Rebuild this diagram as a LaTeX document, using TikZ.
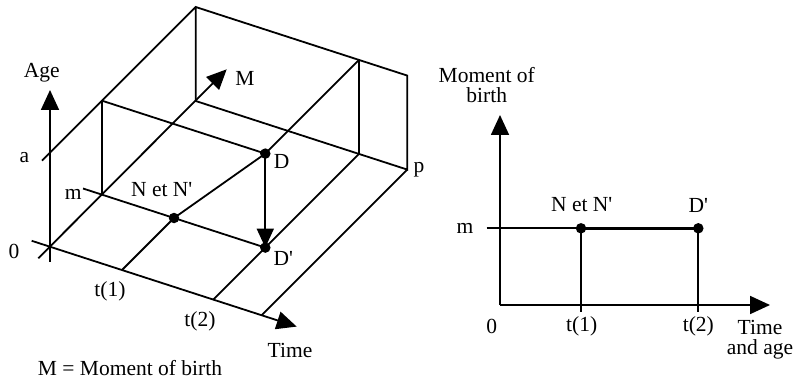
\documentclass[tikz,border=0pt]{standalone}
\usepackage{fontspec}
\newfontfamily\lab{Liberation Serif}
\usetikzlibrary{arrows.meta}
\tikzset{
  ln/.style={line width=1.8pt},
  axis/.style={line width=1.8pt,-{Triangle[length=20pt,width=18pt]}},
  dot/.style={circle,fill=black,inner sep=0pt,minimum size=10.5pt},
  lbl/.style={font=\lab\fontsize{21.5}{23}\selectfont,inner sep=0pt,align=center}
}
\begin{document}
\begin{tikzpicture}[x=1pt,y=-1pt]
\useasboundingbox (0,0) rectangle (799,379);
% ---------- left 3D diagram ----------
\coordinate (O) at (50,246.7);
\coordinate (Ms) at (38.3,258.3);
\coordinate (Me) at (226.7,69.3);
\coordinate (Ts) at (31.7,240.8);
\coordinate (Te) at (296.7,326.6);
\coordinate (As) at (50,261.7);
\coordinate (Ae) at (50,90);
\coordinate (aL) at (42,160.7);
\coordinate (TB) at (195.7,7);
\coordinate (BB) at (195.7,101);
\coordinate (mTop) at (102,100.7);
\coordinate (mBot) at (102,194.7);
\coordinate (mS) at (83,188.5);
\coordinate (TB2) at (359,59.9);
\coordinate (BB2) at (359,153.9);
\coordinate (TBR) at (407.3,75.6);
\coordinate (P) at (407.3,169.6);
\coordinate (T1) at (122,270);
\coordinate (T2) at (213.3,299.6);
\coordinate (Tm) at (261.6,315.3);
\node[dot] (N) at (174,218) {};
\node[dot] (D) at (265.3,153.6) {};
\node[dot] (Dp) at (265.3,247.6) {};

\draw[axis] (As) -- (Ae);
\draw[axis] (Ms) -- (Me);
\draw[axis] (Ts) -- (Te);
\draw[ln] (aL) -- (TB) -- (TBR) -- (P) -- (BB) -- (TB);
\draw[ln] (TB2) -- (BB2);
\draw[ln] (mTop) -- (mBot);
\draw[ln] (mTop) -- (D.center) -- (TB2);
\draw[ln] (mS) -- (Dp.center);
\draw[ln] (BB2) -- (T2);
\draw[ln] (P) -- (Tm);
\draw[ln] (T1) -- (N.center) -- (D.center);
\draw[ln,-{Triangle[length=19pt,width=17pt]}] (D.center) -- (Dp.center);

\node[lbl] (lAge) at (41.7,72.7) {Age};
\node[lbl] (lM) at (245,78) {M};
\node[lbl] (la) at (24.3,157.5) {a};
\node[lbl] (lm) at (73.3,194) {m};
\node[lbl] (l0) at (14,251.7) {0};
\node[lbl] (lN) at (161.7,190) {N et N'};
\node[lbl] (lD) at (281.7,161.7) {D};
\node[lbl] (lDp) at (283.3,258.3) {D'};
\node[lbl] (lp) at (419,170) {p};
\node[lbl] (lt1) at (110,291.7) {t(1)};
\node[lbl] (lt2) at (200,321.7) {t(2)};
\node[lbl] (lTime) at (290,350) {Time};
\node[lbl] (lMb) at (130,368.3) {M = Moment of birth};

% ---------- right 2D diagram ----------
\coordinate (O2) at (500,305);
\coordinate (Y2) at (500,115);
\coordinate (X2) at (770,305);
\coordinate (m2) at (486.7,228.3);
\node[dot] (N2) at (581,228.3) {};
\node[dot] (D2) at (698.3,228.3) {};
\coordinate (N2b) at (581,311.7);
\coordinate (D2b) at (698.3,311.7);
\draw[axis] (O2) -- (Y2);
\draw[axis] (O2) -- (X2);
\draw[ln] (m2) -- (N2.center);
\draw[line width=3.5pt] (N2.center) -- (D2.center);
\draw[ln] (N2.center) -- (N2b);
\draw[ln] (D2.center) -- (D2b);

\node[lbl] (rMb) at (486.7,85.5) {Moment of\\[-3pt]birth};
\node[lbl] (rm) at (465,228.3) {m};
\node[lbl] (rN) at (581.7,205) {N et N'};
\node[lbl] (rD) at (698.3,205) {D'};
\node[lbl] (r0) at (491.7,326.7) {0};
\node[lbl] (rt1) at (581.7,326.7) {t(1)};
\node[lbl] (rt2) at (698.3,326.7) {t(2)};
\node[lbl] (rT) at (760,340) {Time\\[-3pt]and age};
\end{tikzpicture}
\end{document}
